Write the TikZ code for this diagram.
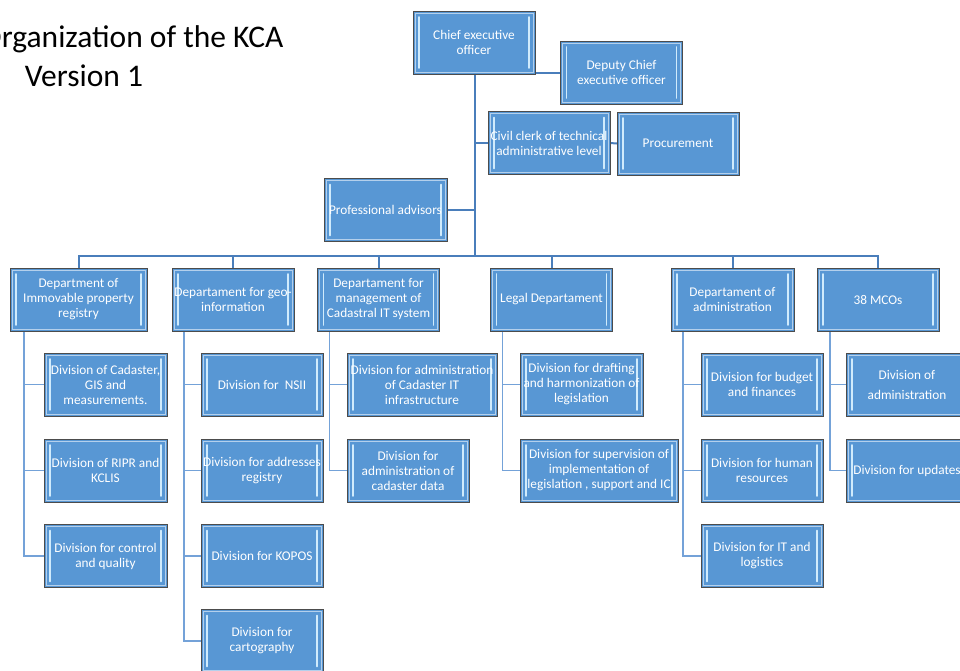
\documentclass[tikz,border=0pt]{standalone}
\usepackage{fontspec}
\setmainfont{Carlito}
\usetikzlibrary{backgrounds}

\definecolor{boxblue}{RGB}{88,151,212}
\definecolor{linkblue}{RGB}{74,126,187}
\definecolor{sublinkblue}{RGB}{116,162,216}
\definecolor{bevel}{RGB}{208,235,252}

\begin{document}
\begin{tikzpicture}[x=1pt,y=-1pt,
  unit/.style={draw=black!70, fill=boxblue, text=white, align=center, inner sep=0pt,
    minimum width=#1, minimum height=63pt, font=\fontsize{13.3}{15}\selectfont,
    path picture={
      \draw[white!55!boxblue, line width=0.6pt]
        ([shift={(2pt,-2pt)}]path picture bounding box.north west) rectangle
        ([shift={(-2pt,2pt)}]path picture bounding box.south east);
      \draw[bevel, line width=1.8pt, line cap=round]
        ([shift={(6pt,-6pt)}]path picture bounding box.north west) --
        ([shift={(6pt,6pt)}]path picture bounding box.south west);
      \draw[bevel, line width=1.8pt, line cap=round]
        ([shift={(-6pt,-6pt)}]path picture bounding box.north east) --
        ([shift={(-6pt,6pt)}]path picture bounding box.south east);
    }},
  unit/.default=122pt,
  link/.style={draw=linkblue, line width=2pt},
  sublink/.style={draw=sublinkblue, line width=1.4pt},
  title/.style={font=\fontsize{31.5}{38}\selectfont, text=black}]

\clip (0,0) rectangle (960,670);

\node[title, anchor=base east] (head) at (287,47) {Organization of the KCA};
\node[title, anchor=base] (version) at (84,86) {Version 1};

\node[unit] (ceo) at (474,42.5) {Chief executive\\officer};
\node[unit] (deputy) at (621.5,72.5) {Deputy Chief\\executive officer};
\node[unit] (clerk) at (549,143) {Civil clerk of technical\\administrative level};
\node[unit] (procure) at (678,143.5) {Procurement};
\node[unit=123pt] (advisors) at (385.5,210) {Professional advisors};

\node[unit=137pt] (d1) at (78.5,299.5) {Department of\\Immovable property\\registry};
\node[unit] (d2) at (233,299.5) {Departament for geo-\\information};
\node[unit] (d3) at (378.5,299.5) {Departament for\\management of\\Cadastral IT system};
\node[unit] (d4) at (551.5,299.5) {Legal Departament};
\node[unit=123pt] (d5) at (732.5,299.5) {Departament of\\administration};
\node[unit] (d6) at (878,299.5) {38 MCOs};

\node[unit=123pt] (k11) at (105.5,384.5) {Division of Cadaster,\\GIS and\\measurements.};
\node[unit=123pt] (k12) at (105.5,470.5) {Division of RIPR and\\KCLIS};
\node[unit=123pt] (k13) at (105.5,556) {Division for control\\and quality};

\node[unit] (k21) at (262,384.5) {Division for \ NSII};
\node[unit] (k22) at (262,470.5) {Division for addresses\\registry};
\node[unit] (k23) at (262,556) {Division for KOPOS};
\node[unit] (k24) at (262,641) {Division for\\cartography};

\node[unit=150pt] (k31) at (422,384.5) {Division for administration\\of Cadaster IT\\infrastructure};
\node[unit] (k32) at (408,470.5) {Division for\\administration of\\cadaster data};

\node[unit=123pt] (k41) at (581.5,384.5) {Division for drafting\\and harmonization of\\legislation};
\node[unit=158pt] (k42) at (599,470.5) {Division for supervision of\\implementation of\\legislation , support and IC};

\node[unit] (k51) at (762,384.5) {Division for budget\\and finances};
\node[unit] (k52) at (762,470.5) {Division for human\\resources};
\node[unit] (k53) at (762,556) {Division for IT and\\logistics};

\node[unit, font=\fontsize{13.3}{20}\selectfont] (k61) at (907,384.5) {Division of\\administration};
\node[unit] (k62) at (907,470.5) {Division for updates};

\begin{scope}[on background layer]
\coordinate (hub) at (475,256);

\draw[link] (ceo.south -| hub) -- (hub);
\draw[link] (deputy.west) -- (deputy.west -| hub);
\draw[link] (clerk.west) -- (clerk.west -| hub);
\draw[link] (clerk.east) -- (procure.west);
\draw[link] (advisors.east) -- (advisors.east -| hub);

\draw[link] (d1.north) |- (hub) -| (d6.north);
\draw[link] (hub) -| (d2.north);
\draw[link] (hub) -| (d3.north);
\draw[link] (hub) -| (d4.north);
\draw[link] (hub) -| (d5.north);

\draw[sublink] ([xshift=14pt]d1.south west) |- (k11.west);
\draw[sublink] ([xshift=14pt]d1.south west) |- (k12.west);
\draw[sublink] ([xshift=14pt]d1.south west) |- (k13.west);

\draw[sublink] ([xshift=12pt]d2.south west) |- (k21.west);
\draw[sublink] ([xshift=12pt]d2.south west) |- (k22.west);
\draw[sublink] ([xshift=12pt]d2.south west) |- (k23.west);
\draw[sublink] ([xshift=12pt]d2.south west) |- (k24.west);

\draw[sublink] ([xshift=12pt]d3.south west) |- (k31.west);
\draw[sublink] ([xshift=12pt]d3.south west) |- (k32.west);

\draw[sublink] ([xshift=12pt]d4.south west) |- (k41.west);
\draw[sublink] ([xshift=12pt]d4.south west) |- (k42.west);

\draw[sublink] ([xshift=12pt]d5.south west) |- (k51.west);
\draw[sublink] ([xshift=12pt]d5.south west) |- (k52.west);
\draw[sublink] ([xshift=12pt]d5.south west) |- (k53.west);

\draw[sublink] ([xshift=13pt]d6.south west) |- (k61.west);
\draw[sublink] ([xshift=13pt]d6.south west) |- (k62.west);
\end{scope}

\end{tikzpicture}
\end{document}
